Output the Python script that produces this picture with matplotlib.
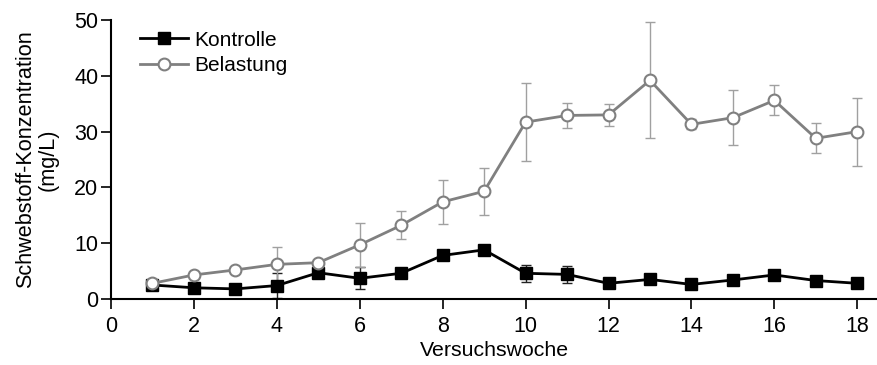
import numpy as np
import matplotlib
matplotlib.use("Agg")
import matplotlib.pyplot as plt

plt.rcParams['font.family'] = ['Liberation Sans', 'DejaVu Sans']

weeks = np.arange(1, 19)

kontrolle = [2.5, 2.0, 1.8, 2.4, 4.7, 3.7, 4.6, 7.8, 8.8,
             4.6, 4.4, 2.8, 3.5, 2.6, 3.4, 4.3, 3.3, 2.8]
kontrolle_err = [0.4, 0.4, 0.3, 2.3, 0.5, 2.0, 0.5, 0.5, 0.6,
                 1.5, 1.5, 0.4, 0.5, 0.4, 0.6, 0.5, 0.4, 0.4]

belastung = [2.8, 4.3, 5.2, 6.2, 6.5, 9.7, 13.2, 17.4, 19.3,
             31.7, 32.9, 33.0, 39.2, 31.3, 32.5, 35.6, 28.8, 30.0]
belastung_err = [0.5, 0.5, 0.6, 3.1, 0.5, 3.9, 2.5, 3.9, 4.2,
                 7.0, 2.2, 2.0, 10.4, 0.9, 4.9, 2.7, 2.7, 6.1]

fig = plt.figure(figsize=(8.78, 3.65), dpi=100)
ax = fig.add_axes([0.1264, 0.181, 0.8736, 0.764])

# error bars first, then lines with markers on top
ax.errorbar(weeks, kontrolle, yerr=kontrolle_err, fmt='none',
            ecolor='#222222', elinewidth=1.0, capsize=3.5, capthick=1.0, zorder=2)
ax.errorbar(weeks, belastung, yerr=belastung_err, fmt='none',
            ecolor='#a0a0a0', elinewidth=1.0, capsize=3.5, capthick=1.0, zorder=2)

ax.plot(weeks, kontrolle, color='black', lw=2, marker='s', ms=8,
        mfc='black', mec='black', label='Kontrolle', zorder=3)
ax.plot(weeks, belastung, color='#808080', lw=2, marker='o', ms=8.5,
        mfc='white', mec='#808080', mew=1.5, label='Belastung', zorder=4)

ax.set_xlim(0, 18.5)
ax.set_ylim(0, 50)
ax.set_xticks(np.arange(0, 19, 2))
ax.set_yticks(np.arange(0, 51, 10))

for side in ['top', 'right']:
    ax.spines[side].set_visible(False)
for side in ['left', 'bottom']:
    ax.spines[side].set_linewidth(1.5)
ax.tick_params(direction='out', length=7, width=1.2, labelsize=15.5)
ax.tick_params(axis='y', pad=2)
ax.tick_params(axis='x', pad=5)

ax.set_xlabel('Versuchswoche', fontsize=15.3, labelpad=3)
ax.set_ylabel('Schwebstoff-Konzentration\n(mg/L)', fontsize=15.6,
              linespacing=1.15, labelpad=11)

ax.legend(loc='upper left', bbox_to_anchor=(0.038, 0.962), frameon=False,
          fontsize=15, handlelength=2.3, handletextpad=0.3, labelspacing=0.3,
          borderaxespad=0, borderpad=0)

fig.savefig('out.png', dpi=100)
